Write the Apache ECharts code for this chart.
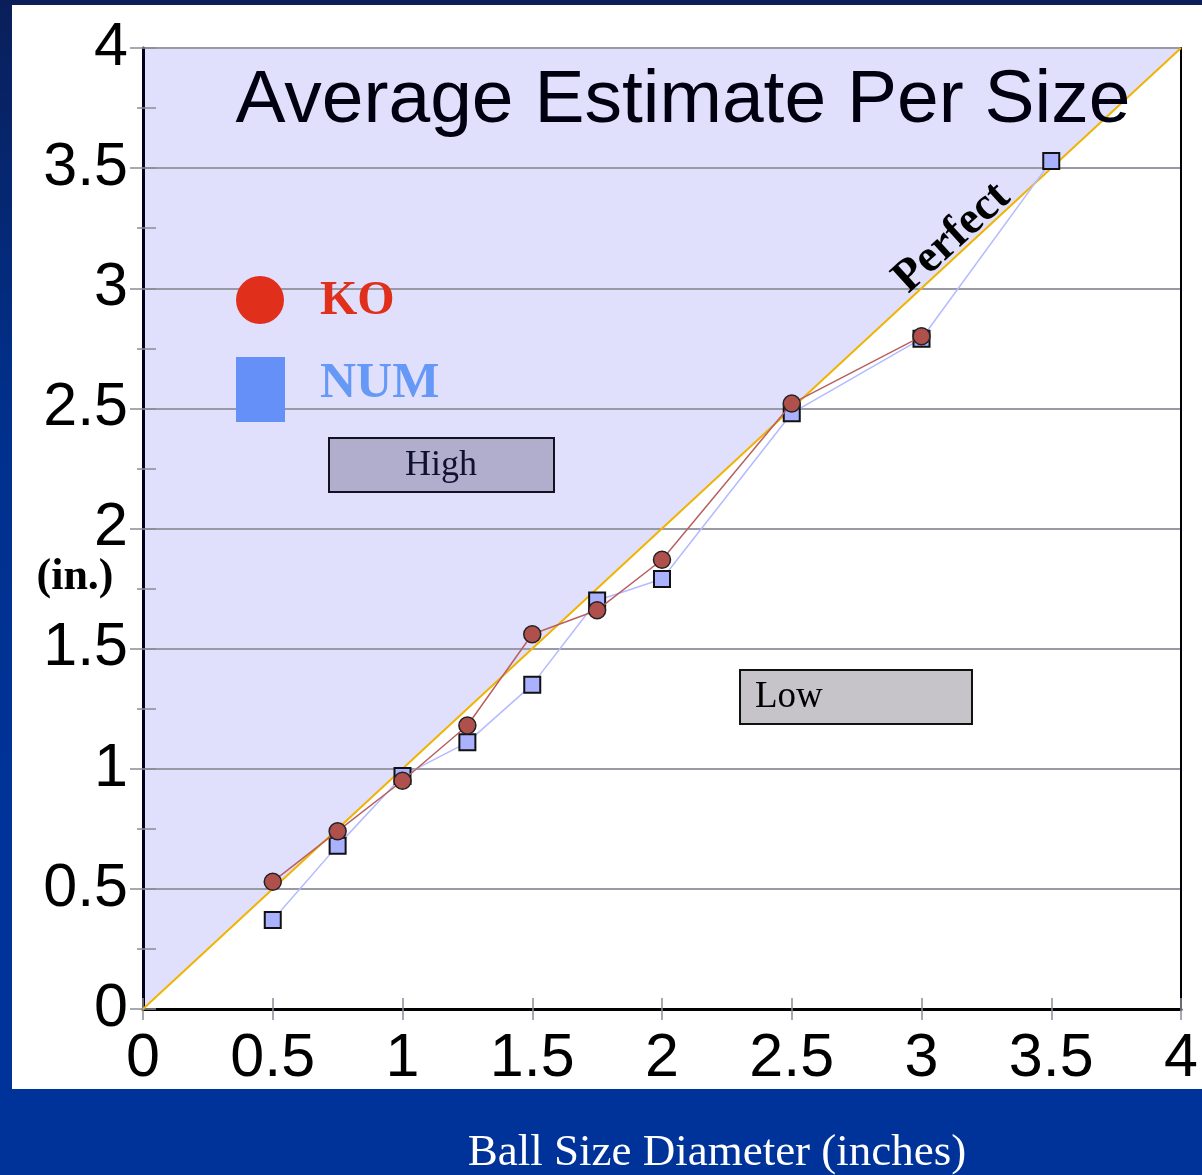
<!DOCTYPE html>
<html>
<head>
<meta charset="utf-8">
<script src="https://cdn.jsdelivr.net/npm/echarts@6/dist/echarts.min.js"></script>
<style>
html,body{margin:0;padding:0;width:1202px;height:1175px;overflow:hidden;
  background:linear-gradient(to bottom,#0a1f5a 0%,#00308c 35%,#003399 70%,#003399 100%);}
#panel{position:absolute;left:12px;top:5px;width:1190px;height:1084px;background:#fff;}
#chart{position:absolute;left:0;top:0;width:1202px;height:1175px;}
</style>
</head>
<body>
<div id="panel"></div>
<div id="chart"></div>
<script>
// ---- data ----
const BALL_SIZES = [0.5, 0.75, 1, 1.25, 1.5, 1.75, 2, 2.5, 3, 3.5];
const KO_ESTIMATES = [0.53, 0.74, 0.95, 1.18, 1.56, 1.66, 1.87, 2.52, 2.80, null];
const NUM_ESTIMATES = [0.37, 0.68, 0.97, 1.11, 1.35, 1.70, 1.79, 2.48, 2.79, 3.53];
const PERFECT_X = [0, 4];
const PERFECT_Y = [0, 4];
const AXIS_MIN = 0, AXIS_MAX = 4, AXIS_STEP = 0.5;
const SERIES_NAMES = ['KO', 'NUM'];

const pairs = (xs, ys) => xs.map((x, i) => [x, ys[i]]).filter(p => p[1] !== null);

const chart = echarts.init(document.getElementById('chart'), null, {renderer: 'canvas'});

const tickStyle = {color: '#8c8c98', width: 1.5};
const sansLabel = {fontSize: 61, fontFamily: 'Liberation Sans', color: '#000'};

const option = {
  animation: false,
  backgroundColor: 'transparent',
  grid: {left: 143, right: 21, top: 48, bottom: 166, containLabel: false, outerBoundsMode: 'none'},
  xAxis: [
    {
      type: 'value', min: AXIS_MIN, max: AXIS_MAX, interval: AXIS_STEP, z: 3,
      axisLine: {show: true, lineStyle: {color: '#000', width: 3}},
      axisTick: {show: true, length: 11, lineStyle: tickStyle},
      axisLabel: Object.assign({margin: 20}, sansLabel),
      splitLine: {show: false},
      name: 'Ball Size Diameter (inches)',
      nameLocation: 'middle',
      nameGap: 122,
      nameTextStyle: {color: '#fff', fontSize: 45, fontFamily: 'Liberation Serif', padding: [0, 0, 0, 110]}
    },
    {
      type: 'value', position: 'bottom', min: AXIS_MIN, max: AXIS_MAX, interval: AXIS_STEP, z: 3,
      axisLine: {show: false},
      axisTick: {show: true, inside: true, length: 11, lineStyle: tickStyle},
      axisLabel: {show: false},
      splitLine: {show: false}
    }
  ],
  yAxis: [
    {
      type: 'value', min: AXIS_MIN, max: AXIS_MAX, interval: AXIS_STEP, z: 3,
      axisLine: {show: true, lineStyle: {color: '#000018', width: 3}},
      axisTick: {show: true, length: 13, lineStyle: tickStyle},
      minorTick: {show: true, splitNumber: 2, length: 6, lineStyle: tickStyle},
      axisLabel: Object.assign({margin: 15}, sansLabel),
      splitLine: {show: true, lineStyle: {color: '#9a9aa6', width: 2}}
    },
    {
      type: 'value', position: 'left', min: AXIS_MIN, max: AXIS_MAX, interval: AXIS_STEP, z: 3,
      axisLine: {show: false},
      axisTick: {show: true, inside: true, length: 13, lineStyle: tickStyle},
      minorTick: {show: true, splitNumber: 2, length: 13, lineStyle: tickStyle},
      axisLabel: {show: false},
      splitLine: {show: false}
    },
    {
      type: 'value', position: 'right', min: AXIS_MIN, max: AXIS_MAX, interval: AXIS_STEP, z: 3,
      axisLine: {show: true, onZero: false, lineStyle: {color: '#000', width: 2}},
      axisTick: {show: false},
      axisLabel: {show: false},
      splitLine: {show: false}
    }
  ],
  series: [
    {
      name: 'High region', type: 'line', z: 1, silent: true,
      data: pairs(PERFECT_X, PERFECT_Y),
      symbol: 'none',
      lineStyle: {width: 0},
      areaStyle: {color: '#e0e0fc', origin: 'end', opacity: 1}
    },
    {
      name: 'Perfect', type: 'line', z: 4, silent: true,
      data: pairs(PERFECT_X, PERFECT_Y),
      symbol: 'none',
      lineStyle: {color: '#f0b400', width: 2}
    },
    {
      name: SERIES_NAMES[1], type: 'line', z: 5,
      data: pairs(BALL_SIZES, NUM_ESTIMATES),
      symbol: 'rect', symbolSize: 16,
      itemStyle: {color: '#aab2ff', borderColor: '#111', borderWidth: 2},
      lineStyle: {color: '#b4baff', width: 1.5}
    },
    {
      name: SERIES_NAMES[0], type: 'line', z: 6,
      data: pairs(BALL_SIZES, KO_ESTIMATES),
      symbol: 'circle', symbolSize: 17,
      itemStyle: {color: '#b0504c', borderColor: '#222', borderWidth: 1.5},
      lineStyle: {color: '#b86060', width: 1.5}
    }
  ],
  graphic: {
    z: 100,
    elements: [
      {type: 'text', z: 100, x: 683, y: 101, style: {text: 'Average Estimate Per Size', font: '75px "Liberation Sans"', fill: '#000010', align: 'center', verticalAlign: 'middle'}},
      {type: 'text', z: 100, x: 75, y: 578, style: {text: '(in.)', font: 'bold 44px "Liberation Serif"', fill: '#000', align: 'center', verticalAlign: 'middle'}},
      {type: 'circle', z: 100, shape: {cx: 260, cy: 300, r: 24}, style: {fill: '#e0301c'}},
      {type: 'text', z: 100, x: 320, y: 302, style: {text: SERIES_NAMES[0], font: 'bold 48px "Liberation Serif"', fill: '#e0301c', align: 'left', verticalAlign: 'middle'}},
      {type: 'rect', z: 100, shape: {x: 236, y: 357, width: 49, height: 65}, style: {fill: '#6490f8'}},
      {type: 'text', z: 100, x: 320, y: 384, style: {text: SERIES_NAMES[1], font: 'bold 50px "Liberation Serif"', fill: '#6699f5', align: 'left', verticalAlign: 'middle'}},
      {type: 'rect', z: 100, shape: {x: 329, y: 438, width: 225, height: 54}, style: {fill: '#b0aecc', stroke: '#111122', lineWidth: 2}},
      {type: 'text', z: 101, x: 441, y: 466, style: {text: 'High', font: '36px "Liberation Serif"', fill: '#101030', align: 'center', verticalAlign: 'middle'}},
      {type: 'rect', z: 100, shape: {x: 740, y: 670, width: 232, height: 54}, style: {fill: '#c6c4c8', stroke: '#111', lineWidth: 2}},
      {type: 'text', z: 101, x: 755, y: 697, style: {text: 'Low', font: '37px "Liberation Serif"', fill: '#000', align: 'left', verticalAlign: 'middle'}},
      {type: 'text', z: 100, x: 952, y: 238, rotation: 0.74, style: {text: 'Perfect', font: 'bold 46px "Liberation Serif"', fill: '#000', align: 'center', verticalAlign: 'middle'}}
    ]
  }
};
chart.setOption(option);
</script>
</body>
</html>
